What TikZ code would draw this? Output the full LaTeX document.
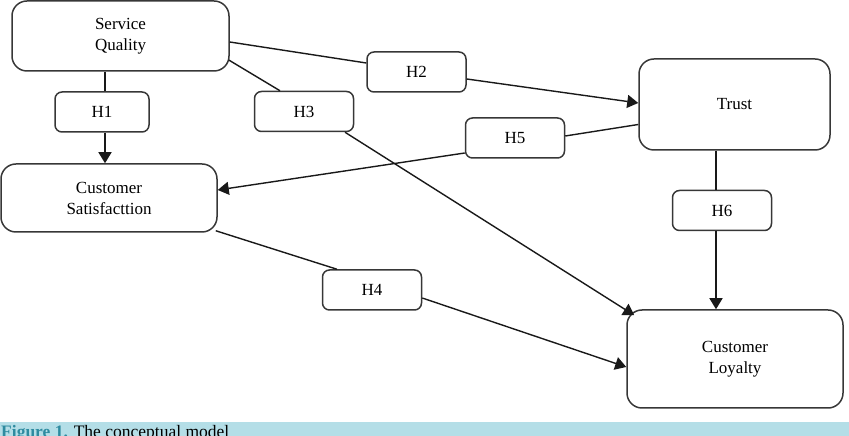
\documentclass[tikz,border=0pt]{standalone}
\usepackage{fontspec}
\setmainfont{Liberation Serif}
\usetikzlibrary{arrows.meta}
\definecolor{capband}{RGB}{180,222,231}
\definecolor{capteal}{RGB}{46,139,160}
\definecolor{boxline}{RGB}{55,55,55}
\begin{document}
\begin{tikzpicture}[x=1pt,y=1pt,
  box/.style={draw=boxline, line width=1.5pt, rounded corners=15pt, align=center,
    font=\fontsize{17}{21}\selectfont, inner sep=0pt},
  hbox/.style={draw=boxline, line width=1.5pt, rounded corners=7pt, minimum width=99pt,
    minimum height=40pt, font=\fontsize{17}{21}\selectfont, inner sep=0pt},
  conn/.style={line width=1.4pt, draw=black!90},
  arr/.style={conn, -{Triangle[length=11pt,width=13pt]}}]
\useasboundingbox (0,0) rectangle (849,436);
\begin{scope}
  \clip (0,0) rectangle (849,436);
  \fill[capband] (0,0) rectangle (849,14);
  \node[anchor=base west, inner sep=0pt, font=\fontsize{17.5}{20}\selectfont] (cap) at (1,-2)
    {\textcolor{capteal}{\textbf{Figure 1.}} The conceptual model};
\end{scope}

\node[box, minimum width=217pt, minimum height=70pt] (sq) at (120.5,400) {Service\\Quality};
\node[box, minimum width=191pt, minimum height=91pt] (trust) at (734.5,331.5) {Trust};
\node[box, minimum width=216pt, minimum height=68pt] (cs) at (109,238) {Customer\\Satisfacttion};
\node[box, minimum width=216pt, minimum height=98pt] (cl) at (735,77) {Customer\\Loyalty};

\node[hbox, minimum width=94pt] (h1) at (102,324) {H1};
\node[hbox] (h3) at (304,324.5) {H3};
\node[hbox] (h2) at (416.5,364) {H2};
\node[hbox] (h5) at (515,298) {H5};
\node[hbox] (h6) at (722,225.5) {H6};
\node[hbox] (h4) at (372,146) {H4};

% H1
\draw[conn] ([xshift=3pt]h1.north |- sq.south) -- ([xshift=3pt]h1.north);
\draw[arr] ([xshift=3pt]h1.south) -- ([xshift=3pt]h1.south |- cs.north);
% H2
\draw[conn] ([yshift=-6pt]sq.east) -- ([yshift=9pt]h2.west);
\draw[arr] ([yshift=-7pt]h2.east) -- ([yshift=1.5pt]trust.west);
% H3
\draw[conn] ([xshift=-1pt,yshift=-24pt]sq.east) -- ([xshift=-24pt]h3.north);
\draw[arr] ([xshift=41pt]h3.south) -- ([xshift=8pt,yshift=-6pt]cl.north west);
% H5
\draw[conn] ([yshift=-20pt]trust.west) -- ([yshift=2pt]h5.east);
\draw[arr] ([yshift=-15pt]h5.west) -- ([yshift=8pt]cs.east);
% H4
\draw[conn] ([xshift=-2pt,yshift=2pt]cs.south east) -- ([xshift=-35pt]h4.north);
\draw[arr] ([yshift=-8pt]h4.east) -- ([yshift=-8pt]cl.west);
% H6
\draw[conn] ([xshift=-6pt]h6.north |- trust.south) -- ([xshift=-6pt]h6.north);
\draw[arr] ([xshift=-6pt]h6.south) -- ([xshift=-6pt]h6.south |- cl.north);
\end{tikzpicture}
\end{document}
